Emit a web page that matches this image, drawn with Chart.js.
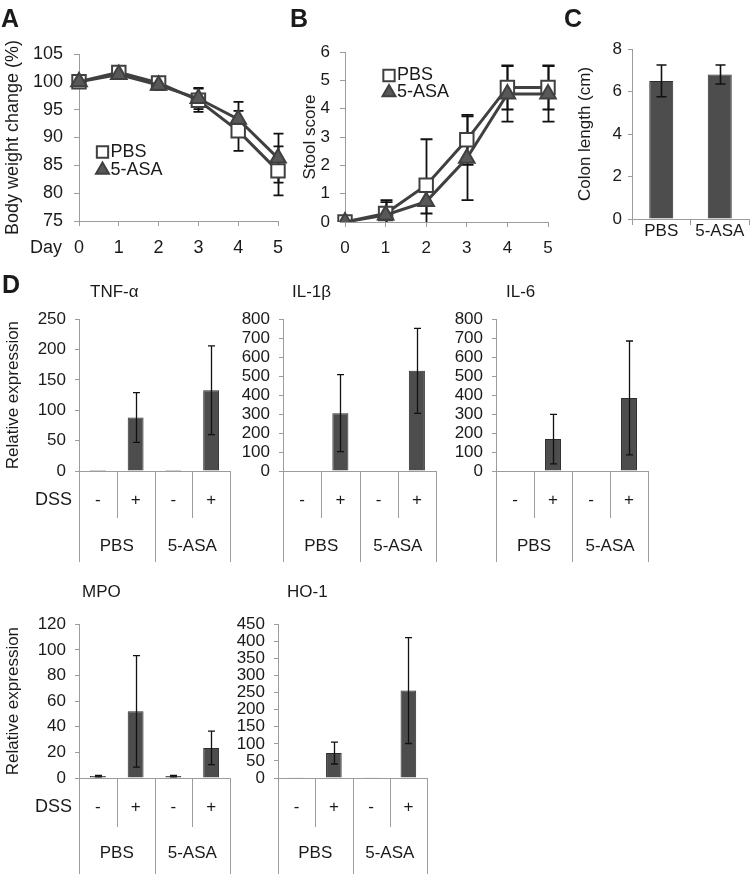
<!DOCTYPE html>
<html><head><meta charset="utf-8">
<script src="https://cdn.jsdelivr.net/npm/chart.js@4.4.1/dist/chart.umd.min.js"></script>
<style>
html,body{margin:0;padding:0;background:#fff;}
#wrap{position:relative;width:750px;height:874px;overflow:hidden;background:#fff;}
#wrap canvas{position:absolute;}
</style></head>
<body><div id="wrap"></div>
<script>
// ---------------- data ----------------
const days = ['0', '1', '2', '3', '4', '5'];
const bwPBS = [100, 101.7, 99.8, 96.7, 91.2, 84.0];
const bwPBSErr = [0.6, 0.8, 0.9, 2.1, 3.6, 4.4];
const bw5ASA = [100, 101.3, 99.4, 97.0, 93.3, 86.3];
const bw5ASAErr = [0.5, 0.7, 0.9, 1.9, 3.1, 4.4];

const stoolPBS = [0, 0.3, 1.3, 2.9, 4.75, 4.75];
const stoolPBSErr = [0, 0.47, 1.62, 0.88, 0.78, 0.78];
const stool5ASA = [0, 0.25, 0.72, 2.25, 4.52, 4.52];
const stool5ASAErr = [0, 0.45, 0.42, 1.48, 0.98, 0.98];

const treatGroups = ['PBS', '5-ASA'];
const colonLen = [6.5, 6.8];
const colonLenErr = [0.75, 0.45];

const dssLabels = ['-', '+', '-', '+'];
const tnfVals = [1.5, 88, 1.5, 133];
const tnfErr = [0, 41, 0, 73];
const il1bVals = [3, 305, 3, 528];
const il1bErr = [0, 203, 0, 224];
const il6Vals = [3, 168, 0, 385];
const il6Err = [0, 130, 0, 300];
const mpoVals = [1.5, 52, 1.5, 23.5];
const mpoErr = [0.6, 43.5, 0.6, 13];
const ho1Vals = [2, 73, 2, 256];
const ho1Err = [0, 32, 0, 155];

// ---------------- style ----------------
const FONT = '"Liberation Sans", Arial, Helvetica, sans-serif';
const AX = '#9c9c9c';
const TXT = '#1a1a1a';
const LINE = '#404040';
const BAR = '#4d4d4d';
const BAR_EDGE = '#2e2e2e';

Chart.defaults.font.family = FONT;
Chart.defaults.color = TXT;
Chart.defaults.animation = false;
Chart.defaults.events = [];
Chart.defaults.plugins.legend.display = false;
Chart.defaults.plugins.tooltip.enabled = false;

// ---------------- plugins ----------------
function drawErr(chart, o) {
  const ctx = chart.ctx, ys = chart.scales.y, ca = chart.chartArea;
  ctx.save();
  ctx.beginPath();
  ctx.rect(ca.left - 20, ca.top - 2, ca.right - ca.left + 40, ca.bottom - ca.top + 2);
  ctx.clip();
  chart.data.datasets.forEach((ds, di) => {
    if (!ds.errors) return;
    const meta = chart.getDatasetMeta(di);
    meta.data.forEach((el, i) => {
      const e = ds.errors[i];
      if (!e) return;
      const v = ds.data[i];
      const x = Math.round(el.x) + 0.5;
      const y1 = ys.getPixelForValue(v + e), y2 = ys.getPixelForValue(v - e);
      ctx.strokeStyle = o.color; ctx.lineWidth = o.width;
      ctx.beginPath();
      ctx.moveTo(x, y1); ctx.lineTo(x, y2);
      ctx.moveTo(x - o.cap / 2, y1); ctx.lineTo(x + o.cap / 2, y1);
      ctx.moveTo(x - o.cap / 2, y2); ctx.lineTo(x + o.cap / 2, y2);
      ctx.stroke();
    });
  });
  ctx.restore();
}
const errPlugin = {
  id: 'errbars',
  beforeDatasetsDraw(chart, a, o) { if (o && o.cap && o.behind) drawErr(chart, o); },
  afterDatasetsDraw(chart, a, o) { if (o && o.cap && !o.behind) drawErr(chart, o); }
};

const legendPlugin = {
  id: 'mkLegend',
  afterDraw(chart, a, o) {
    if (!o || !o.at) return;
    const ctx = chart.ctx, ca = chart.chartArea;
    ctx.save();
    chart.data.datasets.forEach((ds, i) => {
      const x = ca.left + o.at[0], y = ca.top + o.at[1] + i * o.gap;
      ctx.lineWidth = 2;
      ctx.strokeStyle = ds.pointBorderColor;
      ctx.fillStyle = ds.pointBackgroundColor;
      Chart.helpers.drawPoint(ctx, {pointStyle: ds.pointStyle, radius: o.radius[i], borderWidth: 2, rotation: 0}, x, y);
      ctx.fillStyle = TXT;
      ctx.font = o.font;
      ctx.textAlign = 'left';
      ctx.textBaseline = 'middle';
      ctx.fillText(ds.label, x + o.textDx, y);
    });
    ctx.restore();
  }
};

const tablePlugin = {
  id: 'catTable',
  afterDraw(chart, a, o) {
    if (!o || !o.groups) return;
    const ctx = chart.ctx, ca = chart.chartArea, xs = chart.scales.x;
    const n = chart.data.labels.length;
    const px = i => xs.getPixelForValue(i);
    const bounds = [ca.left];
    for (let i = 1; i < n; i++) bounds.push((px(i - 1) + px(i)) / 2);
    bounds.push(ca.right);
    const per = n / o.groups.length;
    ctx.save();
    ctx.strokeStyle = AX; ctx.lineWidth = 1;
    ctx.beginPath();
    bounds.forEach((b, i) => {
      const isLong = i % per === 0;
      const xx = Math.round(b) + 0.5;
      ctx.moveTo(xx, ca.bottom);
      ctx.lineTo(xx, ca.bottom + (isLong ? o.longLen : o.shortLen));
    });
    ctx.stroke();
    ctx.fillStyle = TXT;
    ctx.textBaseline = 'middle';
    ctx.textAlign = 'center';
    ctx.font = '17px ' + FONT;
    o.groups.forEach((g, gi) => {
      const cx = (bounds[gi * per] + bounds[(gi + 1) * per]) / 2;
      ctx.fillText(g, cx, ca.bottom + o.groupDy);
    });
    if (o.rowLabel) {
      ctx.textAlign = 'right';
      ctx.font = '18px ' + FONT;
      ctx.fillText(o.rowLabel, ca.left - 7, ca.bottom + o.rowDy);
    }
    ctx.restore();
  }
};

Chart.register(errPlugin, legendPlugin, tablePlugin);

// ---------------- helpers ----------------
const wrap = document.getElementById('wrap');
function makeCanvas(b) {
  const c = document.createElement('canvas');
  c.width = b.width; c.height = b.height;
  c.style.left = b.left + 'px'; c.style.top = b.top + 'px';
  c.style.width = b.width + 'px'; c.style.height = b.height + 'px';
  wrap.appendChild(c);
  return c.getContext('2d');
}
// area = [left, top, right, bottom] of plot area in page coordinates
function box(left, top, width, height, area, pl) {
  pl = pl || 0;
  return {
    left, top, width, height,
    padding: {left: pl, top: area[1] - top, right: left + width - area[2], bottom: 0},
    yw: area[0] - left - pl,
    xh: top + height - area[3]
  };
}

// ---------------- overlay texts ----------------
(function () {
  const b = {left: 0, top: 0, width: 750, height: 874};
  const ctx = makeCanvas(b);
  ctx.fillStyle = TXT;
  ctx.textBaseline = 'alphabetic';
  ctx.textAlign = 'left';
  ctx.font = 'bold 25px ' + FONT;
  ctx.fillText('A', 1, 27);
  ctx.fillText('B', 290, 27);
  ctx.fillText('C', 564, 27);
  ctx.fillText('D', 2, 293);
  ctx.font = '17px ' + FONT;
  ctx.fillText('TNF-α', 90, 297);
  ctx.fillText('IL-1β', 292, 297);
  ctx.fillText('IL-6', 506, 297);
  ctx.fillText('MPO', 82, 597);
  ctx.fillText('HO-1', 287, 597);
  ctx.font = '18px ' + FONT;
  ctx.textAlign = 'right';
  ctx.textBaseline = 'middle';
  ctx.fillText('Day', 62, 248);
})();

// ---------------- line charts (A, B) ----------------
function seriesDs(label, data, errs, isPBS) {
  return {
    label, data, errors: errs,
    borderColor: LINE, borderWidth: 3, tension: 0,
    pointStyle: isPBS ? 'rect' : 'triangle',
    pointRadius: isPBS ? 9.5 : 9,
    pointBackgroundColor: isPBS ? '#ffffff' : '#585858',
    pointBorderColor: LINE, pointBorderWidth: 2,
    order: isPBS ? 2 : 1
  };
}
function lineChart(b, y, fs, legendAt, legendGap, yTitle, titleSize) {
  const ctx = makeCanvas(b);
  return new Chart(ctx, {
    type: 'line',
    data: {labels: days, datasets: [seriesDs('PBS', y.pbs, y.pbsErr, true), seriesDs('5-ASA', y.asa, y.asaErr, false)]},
    options: {
      responsive: false, devicePixelRatio: 1, maintainAspectRatio: false,
      layout: {padding: b.padding},
      scales: {
        x: {
          grid: {drawOnChartArea: false, drawTicks: true, tickLength: 5, color: AX},
          border: {color: AX, width: 1},
          ticks: {font: {size: fs}, padding: 11, maxRotation: 0, autoSkip: false, color: TXT},
          afterFit: s => { s.height = b.xh; }
        },
        y: {
          min: y.min, max: y.max,
          grid: {drawOnChartArea: false, drawTicks: true, tickLength: 5, color: AX},
          border: {color: AX, width: 1},
          ticks: {stepSize: y.step, autoSkip: false, font: {size: fs}, padding: y.tickPad, color: TXT},
          title: {display: true, text: yTitle, font: {size: titleSize}, padding: {top: 2, bottom: 0}, color: TXT},
          afterFit: s => { s.width = b.yw; }
        }
      },
      plugins: {
        errbars: {cap: y.cap, width: 1.8, color: '#111', behind: true},
        mkLegend: {at: legendAt, gap: legendGap, radius: [8, 7.5], textDx: 8, font: '18px ' + FONT}
      }
    }
  });
}

lineChart(box(0, 0, 300, 270, [79, 54, 278, 221], 0),
  {pbs: bwPBS, pbsErr: bwPBSErr, asa: bw5ASA, asaErr: bw5ASAErr, min: 75, max: 105, step: 5, tickPad: 11, cap: 10},
  18, [23.5, 98], 18, 'Body weight change (%)', 18);

lineChart(box(290, 0, 280, 270, [345, 52, 548, 222], 8),
  {pbs: stoolPBS, pbsErr: stoolPBSErr, asa: stool5ASA, asaErr: stool5ASAErr, min: 0, max: 6, step: 1, tickPad: 10, cap: 12},
  17, [44, 23.5], 17, 'Stool score', 17);

// ---------------- C: colon length ----------------
(function () {
  const b = box(560, 0, 190, 260, [632, 49, 749, 219], 13);
  const ctx = makeCanvas(b);
  new Chart(ctx, {
    type: 'bar',
    data: {labels: treatGroups, datasets: [{data: colonLen, errors: colonLenErr, backgroundColor: BAR, borderColor: BAR_EDGE, borderWidth: 1, barPercentage: 0.41, categoryPercentage: 1}]},
    options: {
      responsive: false, devicePixelRatio: 1, maintainAspectRatio: false,
      layout: {padding: b.padding},
      scales: {
        x: {
          grid: {drawOnChartArea: false, drawTicks: true, tickLength: 6, color: AX, offset: true},
          border: {color: AX, width: 1},
          ticks: {font: {size: 17}, padding: -4, maxRotation: 0, autoSkip: false, color: TXT},
          afterFit: s => { s.height = b.xh; }
        },
        y: {
          min: 0, max: 8,
          grid: {drawOnChartArea: false, drawTicks: true, tickLength: 4, color: AX},
          border: {color: AX, width: 1},
          ticks: {stepSize: 2, autoSkip: false, font: {size: 17}, padding: 6, color: TXT},
          title: {display: true, text: 'Colon length (cm)', font: {size: 17}, padding: {top: 2, bottom: 0}, color: TXT},
          afterFit: s => { s.width = b.yw; }
        }
      },
      plugins: {errbars: {cap: 10, width: 1.6, color: '#111'}}
    }
  });
})();

// ---------------- D: expression panels ----------------
function exprChart(b, yTitle, vals, errs, yMax, yStep, rowLabel, lens) {
  const ctx = makeCanvas(b);
  return new Chart(ctx, {
    type: 'bar',
    data: {labels: dssLabels, datasets: [{data: vals, errors: errs, backgroundColor: BAR, borderColor: BAR_EDGE, borderWidth: 1, barPercentage: 0.42, categoryPercentage: 1}]},
    options: {
      responsive: false, devicePixelRatio: 1, maintainAspectRatio: false,
      layout: {padding: b.padding},
      scales: {
        x: {
          grid: {display: false, drawTicks: false},
          border: {display: true, color: AX, width: 1},
          ticks: {font: {size: 17}, padding: 19, maxRotation: 0, autoSkip: false, color: TXT},
          afterFit: s => { s.height = b.xh; }
        },
        y: {
          min: 0, max: yMax,
          grid: {drawOnChartArea: false, drawTicks: true, tickLength: 4, color: AX},
          border: {color: AX, width: 1},
          ticks: {stepSize: yStep, autoSkip: false, font: {size: 17}, padding: 9, color: TXT},
          title: yTitle ? {display: true, text: yTitle, font: {size: 17}, padding: {top: 2, bottom: 0}, color: TXT} : {display: false},
          afterFit: s => { s.width = b.yw; }
        }
      },
      plugins: {
        errbars: {cap: 7, width: 1.3, color: '#111'},
        catTable: {groups: treatGroups, shortLen: lens[0], longLen: lens[1], groupDy: 75, rowLabel: rowLabel, rowDy: 29}
      }
    }
  });
}

exprChart(box(0, 300, 245, 270, [79, 315, 230, 471], 1), 'Relative expression', tnfVals, tnfErr, 250, 50, 'DSS', [47, 91]);
exprChart(box(240, 300, 210, 270, [283, 315, 436, 471], 0), null, il1bVals, il1bErr, 800, 100, null, [47, 91]);
exprChart(box(450, 300, 215, 270, [496, 315, 648, 471], 0), null, il6Vals, il6Err, 800, 100, null, [47, 91]);
exprChart(box(0, 605, 245, 269, [79, 622, 230, 778], 1), 'Relative expression', mpoVals, mpoErr, 120, 20, 'DSS', [49, 96]);
exprChart(box(235, 605, 210, 269, [278, 622, 427, 778], 0), null, ho1Vals, ho1Err, 450, 50, null, [49, 96]);
</script>
</body></html>
